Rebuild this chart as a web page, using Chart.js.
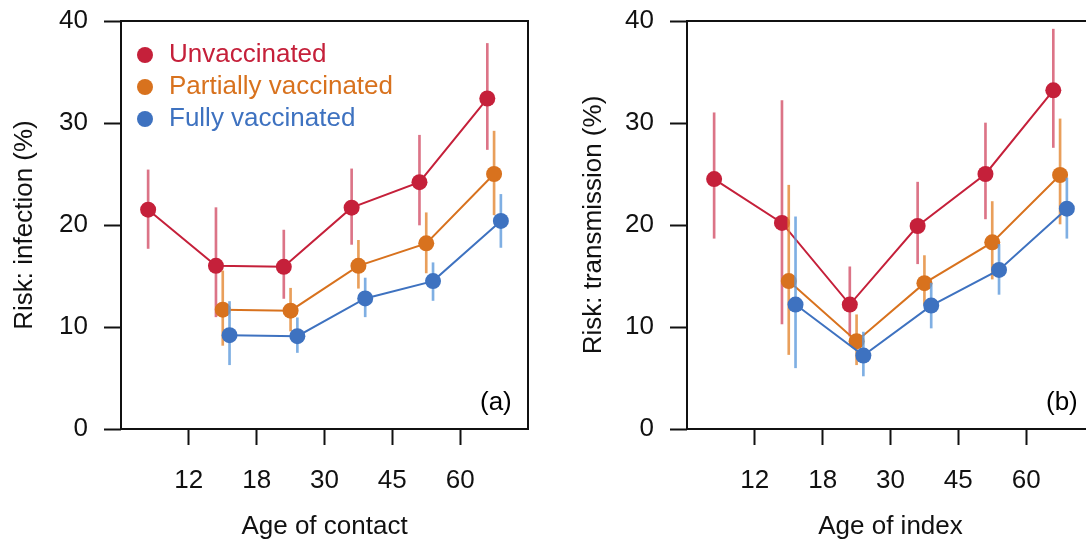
<!DOCTYPE html>
<html>
<head>
<meta charset="utf-8">
<script src="https://cdn.jsdelivr.net/npm/chart.js@4.4.1/dist/chart.umd.min.js"></script>
<style>
  html, body { margin: 0; padding: 0; background: #fff; overflow: hidden; }
  body { width: 1086px; height: 542px; position: relative; font-family: "Liberation Sans", Arial, Helvetica, sans-serif; }
  .panel { position: absolute; top: 0; }
  #legend { position: absolute; left: 0; top: 0; }
  .leg-item { position: absolute; left: 137px; height: 32px; line-height: 32px; font-size: 26px; white-space: nowrap; }
  .leg-dot { display: inline-block; width: 16px; height: 16px; border-radius: 50%; margin-right: 16px; vertical-align: -1px; }
  .tag { position: absolute; font-size: 26px; line-height: 30px; }
</style>
</head>
<body>
<div class="panel" style="left:0"><canvas id="infectionChart" width="543" height="542"></canvas></div>
<div class="panel" style="left:543px"><canvas id="transmissionChart" width="600" height="542"></canvas></div>
<div id="legend"></div>
<div class="tag" style="left:480px; top:386px">(a)</div>
<div class="tag" style="left:1046px; top:386px">(b)</div>

<script>
// age group boundaries shown on the x axis (groups: <12, 12-18, 18-30, 30-45, 45-60, 60+)
const tickLabels = ["12", "18", "30", "45", "60"];
const seriesNames = ["Unvaccinated", "Partially vaccinated", "Fully vaccinated"];
const seriesColors = ["#C5203A", "#D8721E", "#3E72C0"];
const barColors = ["rgba(208,70,95,0.75)", "rgba(228,135,50,0.8)", "rgba(95,155,220,0.8)"];

// (a) risk of infection by age of contact, %
const infUnvac   = [21.5, 16.0, 15.9, 21.7, 24.2, 32.4];
const infUnvacLo = [17.7, 11.0, 12.8, 18.1, 20.0, 27.4];
const infUnvacHi = [25.4, 21.7, 19.5, 25.5, 28.8, 37.8];
const infPart    = [null, 11.7, 11.6, 16.0, 18.2, 25.0];
const infPartLo  = [null,  8.2,  9.6, 13.8, 15.3, 21.0];
const infPartHi  = [null, 15.5, 13.8, 18.5, 21.2, 29.2];
const infFull    = [null,  9.2,  9.1, 12.8, 14.5, 20.4];
const infFullLo  = [null,  6.3,  7.5, 11.0, 12.6, 17.8];
const infFullHi  = [null, 12.5, 10.9, 14.8, 16.3, 23.0];

// (b) risk of transmission by age of index, %
const trUnvac   = [24.5, 20.2, 12.2, 19.9, 25.0, 33.2];
const trUnvacLo = [18.7, 10.3,  9.1, 16.2, 20.6, 27.6];
const trUnvacHi = [31.0, 32.2, 15.9, 24.2, 30.0, 39.2];
const trPart    = [null, 14.5,  8.6, 14.3, 18.3, 24.9];
const trPartLo  = [null,  7.3,  6.3, 12.2, 14.7, 20.1];
const trPartHi  = [null, 23.9, 11.2, 17.0, 22.3, 30.4];
const trFull    = [null, 12.2,  7.2, 12.1, 15.6, 21.6];
const trFullLo  = [null,  6.0,  5.2,  9.9, 13.2, 18.7];
const trFullHi  = [null, 20.8,  9.5, 14.3, 18.1, 24.6];

const FONT = "'Liberation Sans', Arial, Helvetica, sans-serif";
const dodge = [-0.1, 0, 0.1];

function buildDatasets(vals, lows, highs) {
    const sets = [];
    vals.forEach((v, s) => {
        const pts = [], bars = [];
        v.forEach((y, i) => {
            if (y === null) return;
            const x = i + 0.5 + dodge[s];
            pts.push({ x: x, y: y });
            bars.push({ x: x, y: [lows[s][i], highs[s][i]] });
        });
        sets.push({
            type: "bar",
            data: bars,
            backgroundColor: barColors[s],
            borderWidth: 0,
            barThickness: 2,
            grouped: false,
            order: 10 - s * 2
        });
        sets.push({
            type: "line",
            label: seriesNames[s],
            data: pts,
            borderColor: seriesColors[s],
            backgroundColor: seriesColors[s],
            borderWidth: 2,
            pointRadius: 8,
            pointBorderWidth: 0,
            pointBackgroundColor: seriesColors[s],
            tension: 0,
            order: 9 - s * 2
        });
    });
    return sets;
}

const framePlugin = {
    id: "frame",
    beforeDatasetsDraw(chart) {
        const a = chart.chartArea, c = chart.ctx;
        c.save();
        c.strokeStyle = "#111";
        c.lineWidth = 2;
        c.strokeRect(a.left, a.top, a.right - a.left, a.bottom - a.top);
        c.restore();
    }
};

function makeChart(id, sets, yTitle, xTitle, yWidth, padRight, yTitlePad) {
    return new Chart(document.getElementById(id), {
        data: { datasets: sets },
        options: {
            responsive: false,
            animation: false,
            devicePixelRatio: 1,
            layout: { padding: { top: 21, right: padRight, bottom: 0, left: 0 } },
            plugins: { legend: { display: false }, tooltip: { enabled: false } },
            scales: {
                x: {
                    type: "linear",
                    min: 0,
                    max: 6,
                    offset: false,
                    afterBuildTicks: s => { s.ticks = [1, 2, 3, 4, 5].map(v => ({ value: v })); },
                    afterFit: s => { s.height = 113; s.paddingLeft = 0; s.paddingRight = 0; },
                    grid: { drawOnChartArea: false, offset: false, tickLength: 16, tickWidth: 2, tickColor: "#111" },
                    border: { display: false },
                    ticks: {
                        autoSkip: false,
                        maxRotation: 0,
                        padding: 20,
                        color: "#111",
                        font: { family: FONT, size: 26 },
                        callback: (v, i) => tickLabels[i]
                    },
                    title: { display: true, text: xTitle, color: "#111", font: { family: FONT, size: 26 }, padding: { top: 0, bottom: 0 } }
                },
                y: {
                    min: 0,
                    max: 40,
                    afterFit: s => { s.width = yWidth; s.paddingTop = 0; s.paddingBottom = 0; },
                    grid: { drawOnChartArea: false, tickLength: 17, tickWidth: 2, tickColor: "#111" },
                    border: { display: false },
                    ticks: { stepSize: 10, padding: 16, color: "#111", font: { family: FONT, size: 26 } },
                    title: { display: true, text: yTitle, color: "#111", font: { family: FONT, size: 26 }, padding: { top: yTitlePad, bottom: 0 } }
                }
            }
        },
        plugins: [framePlugin]
    });
}

makeChart("infectionChart",
    buildDatasets([infUnvac, infPart, infFull], [infUnvacLo, infPartLo, infFullLo], [infUnvacHi, infPartHi, infFullHi]),
    "Risk: infection (%)", "Age of contact", 121, 15, 9);

makeChart("transmissionChart",
    buildDatasets([trUnvac, trPart, trFull], [trUnvacLo, trPartLo, trFullLo], [trUnvacHi, trPartHi, trFullHi]),
    "Risk: transmission (%)", "Age of index", 144, 49, 35);

// legend inside panel (a)
const legendBox = document.getElementById("legend");
seriesNames.forEach((name, i) => {
    const row = document.createElement("div");
    row.className = "leg-item";
    row.style.top = (37 + i * 32) + "px";
    row.style.color = seriesColors[i];
    row.innerHTML = '<span class="leg-dot" style="background:' + seriesColors[i] + '"></span>' + name;
    legendBox.appendChild(row);
});
</script>
</body>
</html>
